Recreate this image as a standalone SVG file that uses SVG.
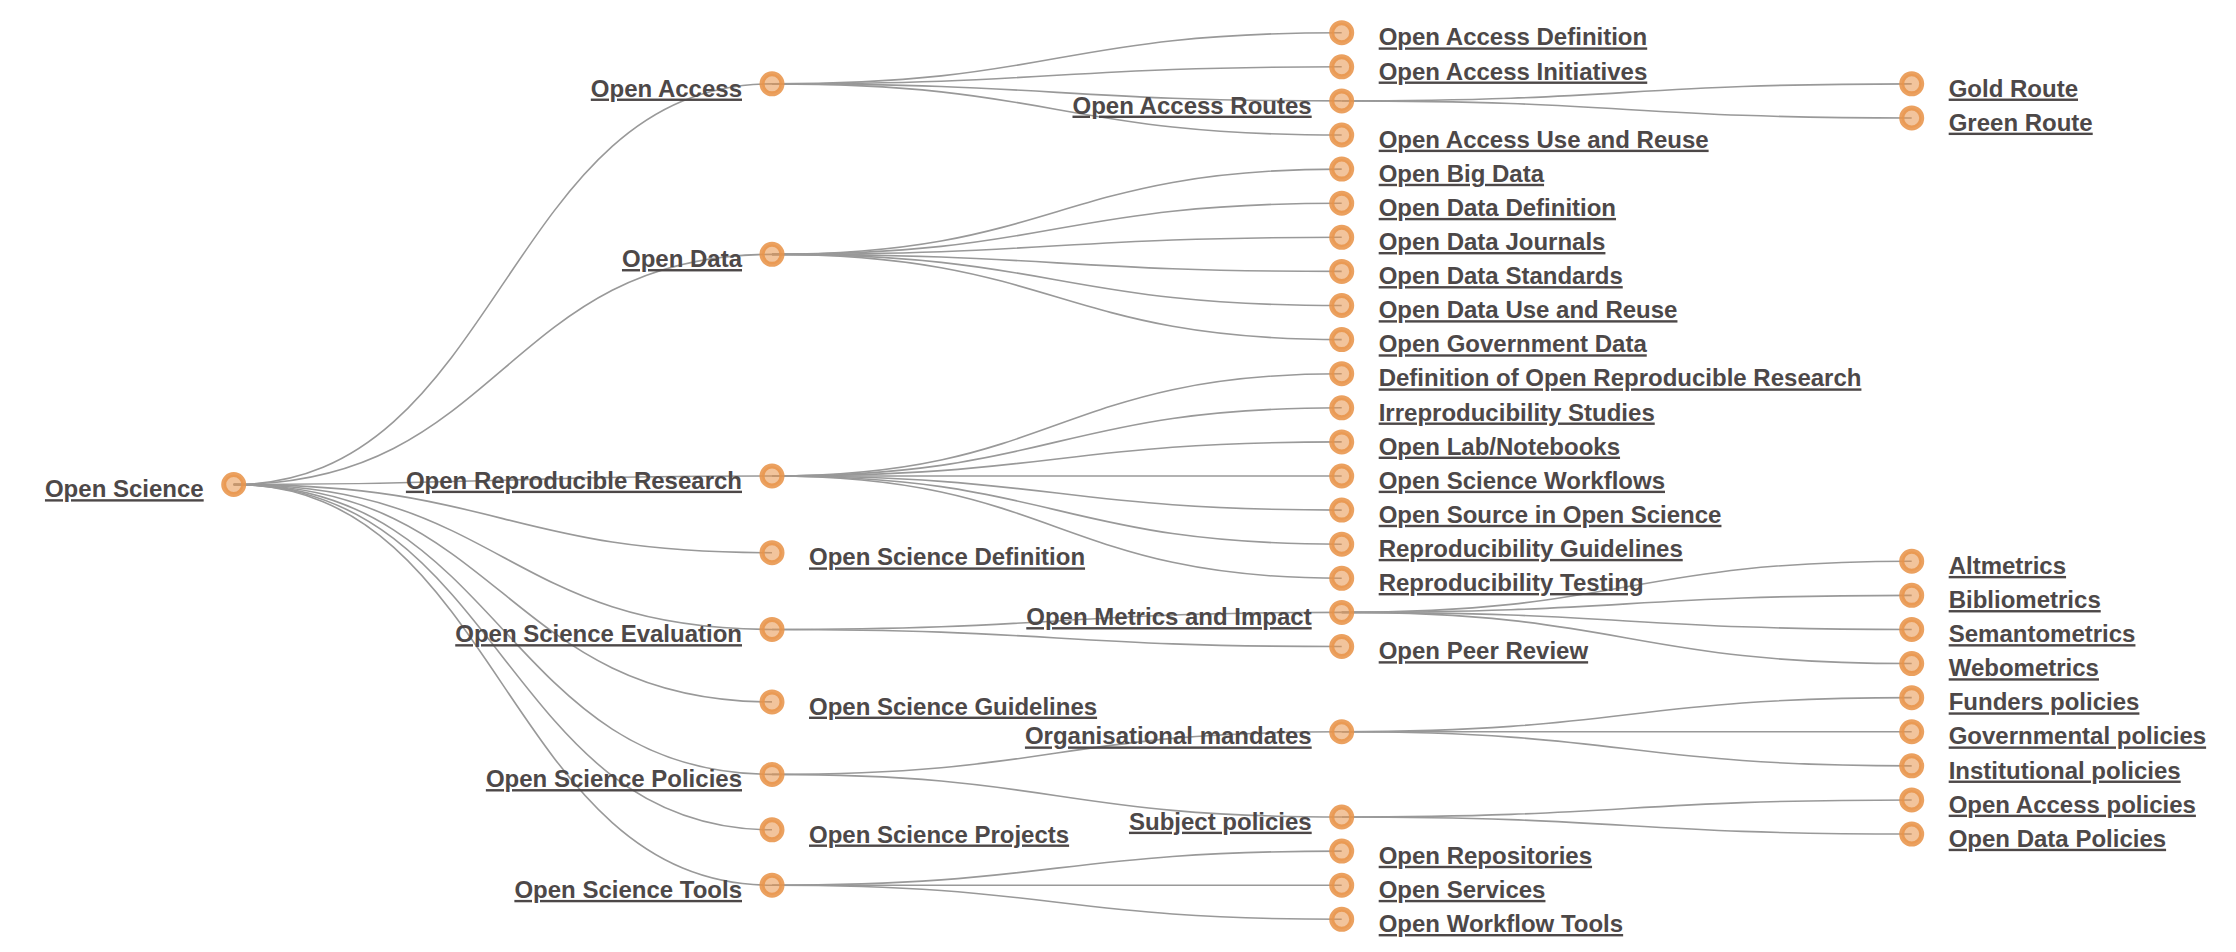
<svg xmlns="http://www.w3.org/2000/svg" width="2236" height="952" viewBox="0 0 2236 952">
<style>
.bg{fill:#ffffff}
.links path{fill:none;stroke:#999999;stroke-width:1.6}
.node circle{fill:#e8944a;fill-opacity:0.55;stroke:#e8944a;stroke-opacity:0.88;stroke-width:5}
.node text{font-family:"Liberation Sans",Arial,Helvetica,sans-serif;font-size:24px;font-weight:bold;fill:#4d4848;text-decoration:underline}
.l{text-anchor:end}
.r{text-anchor:start}
</style>
<rect class="bg" x="0" y="0" width="2236" height="952"/>
<g id="connectors" class="links">
<path d="M233.7,484.5C502.85,484.5 502.85,83.85 772,83.85"/>
<path d="M233.7,484.5C502.85,484.5 502.85,254.35 772,254.35"/>
<path d="M233.7,484.5C502.85,484.5 502.85,476 772,476"/>
<path d="M233.7,484.5C502.85,484.5 502.85,552.7 772,552.7"/>
<path d="M233.7,484.5C502.85,484.5 502.85,629.45 772,629.45"/>
<path d="M233.7,484.5C502.85,484.5 502.85,701.9 772,701.9"/>
<path d="M233.7,484.5C502.85,484.5 502.85,774.4 772,774.4"/>
<path d="M233.7,484.5C502.85,484.5 502.85,829.8 772,829.8"/>
<path d="M233.7,484.5C502.85,484.5 502.85,885.2 772,885.2"/>
<path d="M772,83.85C1056.85,83.85 1056.85,32.7 1341.7,32.7"/>
<path d="M772,83.85C1056.85,83.85 1056.85,66.8 1341.7,66.8"/>
<path d="M772,83.85C1056.85,83.85 1056.85,100.9 1341.7,100.9"/>
<path d="M772,83.85C1056.85,83.85 1056.85,135 1341.7,135"/>
<path d="M772,254.35C1056.85,254.35 1056.85,169.1 1341.7,169.1"/>
<path d="M772,254.35C1056.85,254.35 1056.85,203.2 1341.7,203.2"/>
<path d="M772,254.35C1056.85,254.35 1056.85,237.3 1341.7,237.3"/>
<path d="M772,254.35C1056.85,254.35 1056.85,271.4 1341.7,271.4"/>
<path d="M772,254.35C1056.85,254.35 1056.85,305.5 1341.7,305.5"/>
<path d="M772,254.35C1056.85,254.35 1056.85,339.6 1341.7,339.6"/>
<path d="M772,476C1056.85,476 1056.85,373.7 1341.7,373.7"/>
<path d="M772,476C1056.85,476 1056.85,407.8 1341.7,407.8"/>
<path d="M772,476C1056.85,476 1056.85,441.9 1341.7,441.9"/>
<path d="M772,476C1056.85,476 1056.85,476 1341.7,476"/>
<path d="M772,476C1056.85,476 1056.85,510.1 1341.7,510.1"/>
<path d="M772,476C1056.85,476 1056.85,544.2 1341.7,544.2"/>
<path d="M772,476C1056.85,476 1056.85,578.3 1341.7,578.3"/>
<path d="M772,629.45C1056.85,629.45 1056.85,612.4 1341.7,612.4"/>
<path d="M772,629.45C1056.85,629.45 1056.85,646.5 1341.7,646.5"/>
<path d="M772,774.4C1056.85,774.4 1056.85,731.75 1341.7,731.75"/>
<path d="M772,774.4C1056.85,774.4 1056.85,817 1341.7,817"/>
<path d="M772,885.2C1056.85,885.2 1056.85,851.1 1341.7,851.1"/>
<path d="M772,885.2C1056.85,885.2 1056.85,885.2 1341.7,885.2"/>
<path d="M772,885.2C1056.85,885.2 1056.85,919.3 1341.7,919.3"/>
<path d="M1341.7,100.9C1626.7,100.9 1626.7,83.85 1911.7,83.85"/>
<path d="M1341.7,100.9C1626.7,100.9 1626.7,117.95 1911.7,117.95"/>
<path d="M1341.7,612.4C1626.7,612.4 1626.7,561.25 1911.7,561.25"/>
<path d="M1341.7,612.4C1626.7,612.4 1626.7,595.35 1911.7,595.35"/>
<path d="M1341.7,612.4C1626.7,612.4 1626.7,629.45 1911.7,629.45"/>
<path d="M1341.7,612.4C1626.7,612.4 1626.7,663.55 1911.7,663.55"/>
<path d="M1341.7,731.75C1626.7,731.75 1626.7,697.65 1911.7,697.65"/>
<path d="M1341.7,731.75C1626.7,731.75 1626.7,731.75 1911.7,731.75"/>
<path d="M1341.7,731.75C1626.7,731.75 1626.7,765.85 1911.7,765.85"/>
<path d="M1341.7,817C1626.7,817 1626.7,799.95 1911.7,799.95"/>
<path d="M1341.7,817C1626.7,817 1626.7,834.05 1911.7,834.05"/>
</g>
<g id="n-open-science" class="node"><circle cx="233.7" cy="484.5" r="10"/><text class="l" x="203.7" y="497.2">Open Science</text></g>
<g id="n-open-access" class="node"><circle cx="772" cy="83.85" r="10"/><text class="l" x="742" y="96.55">Open Access</text></g>
<g id="n-open-data" class="node"><circle cx="772" cy="254.35" r="10"/><text class="l" x="742" y="267.05">Open Data</text></g>
<g id="n-open-reproducible-research" class="node"><circle cx="772" cy="476" r="10"/><text class="l" x="742" y="488.7">Open Reproducible Research</text></g>
<g id="n-open-science-definition" class="node"><circle cx="772" cy="552.7" r="10"/><text class="r" x="809" y="565.4">Open Science Definition</text></g>
<g id="n-open-science-evaluation" class="node"><circle cx="772" cy="629.45" r="10"/><text class="l" x="742" y="642.15">Open Science Evaluation</text></g>
<g id="n-open-science-guidelines" class="node"><circle cx="772" cy="701.9" r="10"/><text class="r" x="809" y="714.6">Open Science Guidelines</text></g>
<g id="n-open-science-policies" class="node"><circle cx="772" cy="774.4" r="10"/><text class="l" x="742" y="787.1">Open Science Policies</text></g>
<g id="n-open-science-projects" class="node"><circle cx="772" cy="829.8" r="10"/><text class="r" x="809" y="842.5">Open Science Projects</text></g>
<g id="n-open-science-tools" class="node"><circle cx="772" cy="885.2" r="10"/><text class="l" x="742" y="897.9">Open Science Tools</text></g>
<g id="n-oa-definition" class="node"><circle cx="1341.7" cy="32.7" r="10"/><text class="r" x="1378.7" y="45.4">Open Access Definition</text></g>
<g id="n-oa-initiatives" class="node"><circle cx="1341.7" cy="66.8" r="10"/><text class="r" x="1378.7" y="79.5">Open Access Initiatives</text></g>
<g id="n-oa-routes" class="node"><circle cx="1341.7" cy="100.9" r="10"/><text class="l" x="1311.7" y="113.6">Open Access Routes</text></g>
<g id="n-oa-use-reuse" class="node"><circle cx="1341.7" cy="135" r="10"/><text class="r" x="1378.7" y="147.7">Open Access Use and Reuse</text></g>
<g id="n-open-big-data" class="node"><circle cx="1341.7" cy="169.1" r="10"/><text class="r" x="1378.7" y="181.8">Open Big Data</text></g>
<g id="n-od-definition" class="node"><circle cx="1341.7" cy="203.2" r="10"/><text class="r" x="1378.7" y="215.9">Open Data Definition</text></g>
<g id="n-od-journals" class="node"><circle cx="1341.7" cy="237.3" r="10"/><text class="r" x="1378.7" y="250">Open Data Journals</text></g>
<g id="n-od-standards" class="node"><circle cx="1341.7" cy="271.4" r="10"/><text class="r" x="1378.7" y="284.1">Open Data Standards</text></g>
<g id="n-od-use-reuse" class="node"><circle cx="1341.7" cy="305.5" r="10"/><text class="r" x="1378.7" y="318.2">Open Data Use and Reuse</text></g>
<g id="n-open-government-data" class="node"><circle cx="1341.7" cy="339.6" r="10"/><text class="r" x="1378.7" y="352.3">Open Government Data</text></g>
<g id="n-def-orr" class="node"><circle cx="1341.7" cy="373.7" r="10"/><text class="r" x="1378.7" y="386.4">Definition of Open Reproducible Research</text></g>
<g id="n-irreproducibility" class="node"><circle cx="1341.7" cy="407.8" r="10"/><text class="r" x="1378.7" y="420.5">Irreproducibility Studies</text></g>
<g id="n-open-lab" class="node"><circle cx="1341.7" cy="441.9" r="10"/><text class="r" x="1378.7" y="454.6">Open Lab/Notebooks</text></g>
<g id="n-os-workflows" class="node"><circle cx="1341.7" cy="476" r="10"/><text class="r" x="1378.7" y="488.7">Open Science Workflows</text></g>
<g id="n-open-source" class="node"><circle cx="1341.7" cy="510.1" r="10"/><text class="r" x="1378.7" y="522.8">Open Source in Open Science</text></g>
<g id="n-repro-guidelines" class="node"><circle cx="1341.7" cy="544.2" r="10"/><text class="r" x="1378.7" y="556.9">Reproducibility Guidelines</text></g>
<g id="n-repro-testing" class="node"><circle cx="1341.7" cy="578.3" r="10"/><text class="r" x="1378.7" y="591">Reproducibility Testing</text></g>
<g id="n-open-metrics" class="node"><circle cx="1341.7" cy="612.4" r="10"/><text class="l" x="1311.7" y="625.1">Open Metrics and Impact</text></g>
<g id="n-open-peer-review" class="node"><circle cx="1341.7" cy="646.5" r="10"/><text class="r" x="1378.7" y="659.2">Open Peer Review</text></g>
<g id="n-org-mandates" class="node"><circle cx="1341.7" cy="731.75" r="10"/><text class="l" x="1311.7" y="744.45">Organisational mandates</text></g>
<g id="n-subject-policies" class="node"><circle cx="1341.7" cy="817" r="10"/><text class="l" x="1311.7" y="829.7">Subject policies</text></g>
<g id="n-open-repositories" class="node"><circle cx="1341.7" cy="851.1" r="10"/><text class="r" x="1378.7" y="863.8">Open Repositories</text></g>
<g id="n-open-services" class="node"><circle cx="1341.7" cy="885.2" r="10"/><text class="r" x="1378.7" y="897.9">Open Services</text></g>
<g id="n-open-workflow-tools" class="node"><circle cx="1341.7" cy="919.3" r="10"/><text class="r" x="1378.7" y="932">Open Workflow Tools</text></g>
<g id="n-gold-route" class="node"><circle cx="1911.7" cy="83.85" r="10"/><text class="r" x="1948.7" y="96.55">Gold Route</text></g>
<g id="n-green-route" class="node"><circle cx="1911.7" cy="117.95" r="10"/><text class="r" x="1948.7" y="130.65">Green Route</text></g>
<g id="n-altmetrics" class="node"><circle cx="1911.7" cy="561.25" r="10"/><text class="r" x="1948.7" y="573.95">Altmetrics</text></g>
<g id="n-bibliometrics" class="node"><circle cx="1911.7" cy="595.35" r="10"/><text class="r" x="1948.7" y="608.05">Bibliometrics</text></g>
<g id="n-semantometrics" class="node"><circle cx="1911.7" cy="629.45" r="10"/><text class="r" x="1948.7" y="642.15">Semantometrics</text></g>
<g id="n-webometrics" class="node"><circle cx="1911.7" cy="663.55" r="10"/><text class="r" x="1948.7" y="676.25">Webometrics</text></g>
<g id="n-funders-policies" class="node"><circle cx="1911.7" cy="697.65" r="10"/><text class="r" x="1948.7" y="710.35">Funders policies</text></g>
<g id="n-governmental-policies" class="node"><circle cx="1911.7" cy="731.75" r="10"/><text class="r" x="1948.7" y="744.45">Governmental policies</text></g>
<g id="n-institutional-policies" class="node"><circle cx="1911.7" cy="765.85" r="10"/><text class="r" x="1948.7" y="778.55">Institutional policies</text></g>
<g id="n-open-access-policies" class="node"><circle cx="1911.7" cy="799.95" r="10"/><text class="r" x="1948.7" y="812.65">Open Access policies</text></g>
<g id="n-open-data-policies" class="node"><circle cx="1911.7" cy="834.05" r="10"/><text class="r" x="1948.7" y="846.75">Open Data Policies</text></g>
</svg>
